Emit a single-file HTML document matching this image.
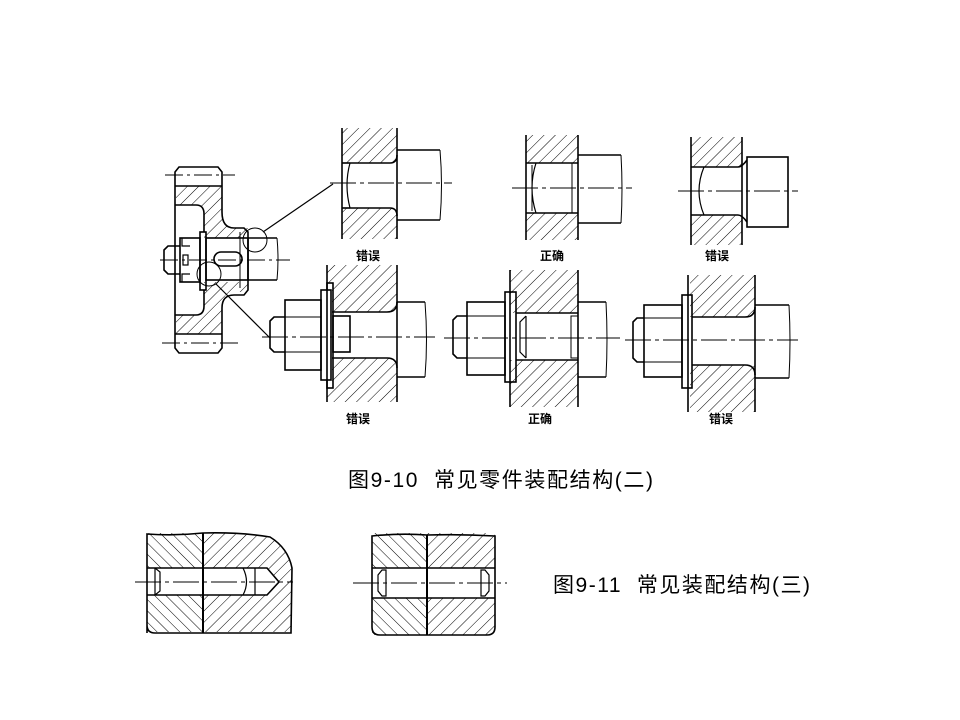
<!DOCTYPE html>
<html><head><meta charset="utf-8"><style>
html,body{margin:0;padding:0;background:#fff;}
svg{display:block}
text{font-family:"Liberation Sans","Noto Sans CJK SC",sans-serif;fill:#000}
</style></head><body>
<svg width="960" height="720" viewBox="0 0 960 720" xmlns="http://www.w3.org/2000/svg">
<defs>
<pattern id="h1" patternUnits="userSpaceOnUse" width="8" height="8" patternTransform="rotate(45)">
<line x1="0" y1="0" x2="0" y2="8" stroke="#000" stroke-width="1"/></pattern>
<pattern id="h2" patternUnits="userSpaceOnUse" width="8" height="8" patternTransform="rotate(-45)">
<line x1="0" y1="0" x2="0" y2="8" stroke="#000" stroke-width="1"/></pattern>
</defs>
<g fill="none" stroke="#000" stroke-width="1.6">

<!-- Wheel -->
<path d="M176,186 H222 V212 Q222,228 234,228 H248 V238 H204 V214 Q204,205 196,205 H176 Z" fill="url(#h1)" stroke="none"/>
<path d="M176,334 H222 V308 Q222,292 234,292 H248 V282 H204 V306 Q204,315 196,315 H176 Z" fill="url(#h1)" stroke="none"/>
<path d="M179,167 H218 L222,172 V212 Q222,228 234,228 H244 L248,232 V290 L244,295 H234 Q222,295 222,308 V348 L218,353 H179 L175,348 V172 Z"/>
<line x1="175" y1="186" x2="222" y2="186"/><line x1="175" y1="205" x2="196" y2="205"/>
<line x1="175" y1="334" x2="222" y2="334"/><line x1="175" y1="315" x2="196" y2="315"/>
<path d="M196,205 Q204,205 204,214 V232"/><path d="M196,315 Q204,315 204,306 V290"/>
<rect x="200" y="232" width="6" height="58"/>
<rect x="206" y="238" width="42" height="42"/>
<line x1="248" y1="238" x2="277" y2="238"/><line x1="248" y1="280" x2="277" y2="280"/>
<path d="M277,238 Q279,259 277,280" stroke-width="1"/>
<rect x="214" y="252" width="28" height="14" rx="7"/>
<rect x="180" y="238" width="20" height="44"/>
<path d="M182,238 V246 H190 M182,282 V274 H190" stroke-width="1.2"/>
<rect x="183" y="255" width="5" height="10" stroke-width="1.2"/>
<path d="M180,246 H168 L164,250 V270 L168,274 H180"/>
<line x1="240" y1="232" x2="240" y2="288" stroke-width="1"/>
<g stroke-width="1" stroke-dasharray="18,4,3,4">
<line x1="160" y1="260" x2="290" y2="260"/>
<line x1="165" y1="175" x2="235" y2="175"/>
<line x1="162" y1="343" x2="238" y2="343"/>
</g>
<circle cx="255" cy="240" r="12" stroke-width="1"/>
<circle cx="209" cy="274" r="12" stroke-width="1"/>
<line x1="263" y1="232" x2="333" y2="184" stroke-width="1.2"/>
<line x1="216" y1="284" x2="270" y2="338" stroke-width="1.2"/>

<!-- Panel A -->
<rect x="342" y="128" width="55" height="35" fill="url(#h1)" stroke="none"/>
<rect x="342" y="208" width="55" height="31" fill="url(#h1)" stroke="none"/>
<line x1="342" y1="128" x2="342" y2="239"/><line x1="397" y1="128" x2="397" y2="239"/>
<path d="M350,163 H390 Q397,163 397,155"/><path d="M350,208 H390 Q397,208 397,216"/>
<path d="M350,163 Q344,185 350,208" stroke-width="1.2"/><line x1="342" y1="163" x2="350" y2="163"/><line x1="342" y1="208" x2="350" y2="208"/>
<path d="M397,150 H440 M397,220 H440"/><path d="M440,150 Q443,185 440,220" stroke-width="1"/>

<!-- Panel B -->
<rect x="526" y="135" width="52" height="28" fill="url(#h1)" stroke="none"/>
<rect x="526" y="213" width="52" height="27" fill="url(#h1)" stroke="none"/>
<line x1="526" y1="135" x2="526" y2="240"/><line x1="578" y1="135" x2="578" y2="240"/>
<path d="M526,163 H578 M526,213 H578"/>
<path d="M536,163 Q528,188 536,213" stroke-width="1.2"/><line x1="532" y1="165" x2="532" y2="211" stroke-width="1"/>
<line x1="572" y1="163" x2="572" y2="213" stroke-width="1"/>
<path d="M578,155 H621 M578,223 H621"/><path d="M621,155 Q623,189 621,223" stroke-width="1"/>

<!-- Panel C -->
<rect x="691" y="137" width="51" height="30" fill="url(#h1)" stroke="none"/>
<rect x="691" y="215" width="51" height="30" fill="url(#h1)" stroke="none"/>
<line x1="691" y1="137" x2="691" y2="245"/><line x1="742" y1="137" x2="742" y2="245"/>
<path d="M691,167 H738 Q742,167 747,160 M691,215 H738 Q742,215 747,222"/>
<path d="M704,167 Q694,191 704,215" stroke-width="1.2"/>
<rect x="747" y="157" width="41" height="70"/>

<!-- Panel D -->
<path d="M327,265 H397 V302 Q397,312 387,312 H332 V283 H327 Z" fill="url(#h1)" stroke="none"/>
<path d="M327,402 H397 V377 Q397,358 387,358 H332 V388 H327 Z" fill="url(#h1)" stroke="none"/>
<line x1="327" y1="265" x2="327" y2="290"/><line x1="327" y1="380" x2="327" y2="402"/>
<line x1="397" y1="265" x2="397" y2="402"/>
<path d="M332,312 H387 Q397,312 397,302 M332,358 H387 Q397,358 397,368"/>
<rect x="327" y="283" width="6" height="105"/>
<rect x="321" y="290" width="10" height="90"/>
<rect x="285" y="300" width="36" height="70"/>
<line x1="285" y1="317" x2="321" y2="317" stroke-width="1"/><line x1="285" y1="352" x2="321" y2="352" stroke-width="1"/>
<path d="M285,317 H274 L270,321 V348 L274,352 H285"/>
<rect x="333" y="316" width="17" height="36"/>
<path d="M397,302 H425 M397,377 H425"/><path d="M425,302 Q428,340 425,377" stroke-width="1"/>

<!-- Panel E -->
<rect x="510" y="270" width="68" height="43" fill="url(#h1)" stroke="none"/>
<rect x="510" y="360" width="68" height="47" fill="url(#h1)" stroke="none"/>
<line x1="510" y1="270" x2="510" y2="407"/><line x1="578" y1="270" x2="578" y2="407"/>
<path d="M516,313 H578 M516,360 H578"/>
<rect x="505" y="292" width="11" height="90"/>
<rect x="467" y="302" width="38" height="73"/>
<line x1="467" y1="316" x2="505" y2="316" stroke-width="1"/><line x1="467" y1="358" x2="505" y2="358" stroke-width="1"/>
<path d="M467,316 H457 L453,320 V354 L457,358 H467"/>
<path d="M526,316 L520,322 V352 L526,358 M526,316 V358" stroke-width="1.2"/>
<rect x="571" y="316" width="7" height="42" stroke-width="1"/>
<path d="M578,302 H606 M578,377 H606"/><path d="M606,302 Q608,340 606,377" stroke-width="1"/>

<!-- Panel F -->
<rect x="690" y="275" width="65" height="42" fill="url(#h1)" stroke="none"/>
<rect x="690" y="365" width="65" height="47" fill="url(#h1)" stroke="none"/>
<line x1="688" y1="275" x2="688" y2="412"/><line x1="755" y1="275" x2="755" y2="412"/>
<path d="M692,317 H745 Q755,317 755,307 M692,365 H745 Q755,365 755,375"/>
<rect x="682" y="295" width="10" height="93"/>
<rect x="644" y="305" width="38" height="72"/>
<line x1="644" y1="318" x2="682" y2="318" stroke-width="1"/><line x1="644" y1="362" x2="682" y2="362" stroke-width="1"/>
<path d="M644,318 H637 L633,322 V358 L637,362 H644"/>
<path d="M755,305 H789 M755,378 H789"/><path d="M789,305 Q791,341 789,378" stroke-width="1"/>

<g stroke-width="1" stroke-dasharray="26,4,4,4">
<line x1="330" y1="183" x2="452" y2="183"/>
<line x1="512" y1="188" x2="632" y2="188"/>
<line x1="678" y1="191" x2="798" y2="191"/>
<line x1="262" y1="337" x2="435" y2="337"/>
<line x1="444" y1="338" x2="620" y2="338"/>
<line x1="625" y1="340" x2="798" y2="340"/>
</g>

<!-- Fig 9-11 left -->
<path d="M147,533 H203 V568 H147 Z" fill="url(#h2)" stroke="none"/>
<path d="M147,595 H203 V632 H147 Z" fill="url(#h2)" stroke="none"/>
<path d="M203,533 Q240,532 270,537 Q288,548 292,568 L291,632 H203 Z" fill="url(#h1)" stroke="none"/>
<rect x="155" y="568" width="112" height="27" fill="#fff" stroke="none"/>
<path d="M267,568 L279,582 L267,595 Z" fill="#fff" stroke="none"/>
<path d="M147,633 V534 Q175,536 203,533 Q240,532 270,537 Q288,548 292,568 L291,633 H155 Q147,633 147,625" />
<line x1="203" y1="533" x2="203" y2="633" stroke-width="2"/>
<path d="M147,568 H267 L279,582 L267,595 H147"/>
<path d="M155,568 L160,572 V591 L155,595 M155,568 V595" stroke-width="1.2"/>
<path d="M243,568 Q250,582 243,595 M255,568 V595" stroke-width="1.2"/>

<!-- Fig 9-11 right -->
<path d="M372,533 H427 V568 H372 Z" fill="url(#h2)" stroke="none"/>
<path d="M372,598 H427 V635 H372 Z" fill="url(#h2)" stroke="none"/>
<path d="M427,533 H495 V568 H427 Z" fill="url(#h1)" stroke="none"/>
<path d="M427,598 H495 V635 H427 Z" fill="url(#h1)" stroke="none"/>
<path d="M372,536 Q400,533 427,535 Q460,534 495,536 V627 Q495,635 487,635 H380 Q372,635 372,627 Z"/>
<line x1="427" y1="535" x2="427" y2="635" stroke-width="2"/>
<path d="M372,568 H495 M372,598 H495"/>
<path d="M382,570 L378,575 V591 L382,596 H386 V570 Z" stroke-width="1.2"/>
<path d="M485,570 L489,575 V591 L485,596 H481 V570 Z" stroke-width="1.2"/>

<g stroke-width="1" stroke-dasharray="26,4,4,4">
<line x1="135" y1="582" x2="293" y2="582"/>
<line x1="353" y1="583" x2="507" y2="583"/>
</g>
</g>

<g font-size="12" font-weight="bold">
<text x="356" y="260">错误</text>
<text x="540" y="260">正确</text>
<text x="705" y="260">错误</text>
<text x="346" y="423">错误</text>
<text x="528" y="423">正确</text>
<text x="709" y="423">错误</text>
</g>
<text x="348" y="487" font-size="21" textLength="305" lengthAdjust="spacing" xml:space="preserve">图9-10&#160;&#160;常见零件装配结构(二)</text>
<text x="553" y="592" font-size="21" textLength="257" lengthAdjust="spacing" xml:space="preserve">图9-11&#160;&#160;常见装配结构(三)</text>
</svg>
</body></html>
